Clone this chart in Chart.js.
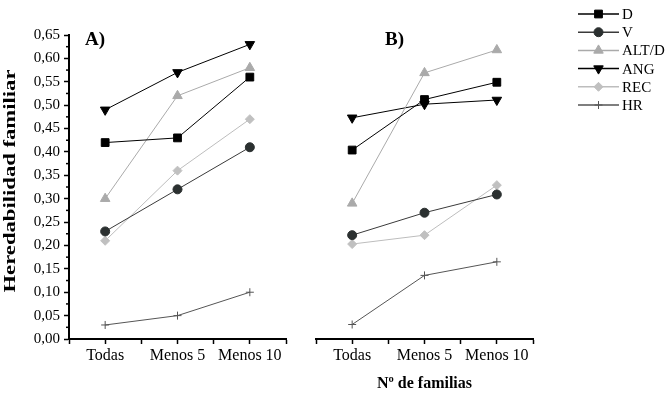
<!DOCTYPE html>
<html>
<head>
<meta charset="utf-8">
<script src="https://cdn.jsdelivr.net/npm/chart.js@4"></script>
<style>
  body { margin: 0; background: #fff; }
  #wrap { position: relative; width: 668px; height: 393px; }
  canvas { position: absolute; top: 0; }
</style>
</head>
<body>
<div id="wrap">
  <canvas id="panelA" width="300" height="393" style="left:0"></canvas>
  <canvas id="panelB" width="368" height="393" style="left:300px"></canvas>
</div>
<script>
// categories sit on every other slot of the x axis, the empty slots only carry ticks
let categories = ['Todas', 'Menos 5', 'Menos 10'];
let xLabels = ['', 'Todas', ' ', 'Menos 5', '  ', 'Menos 10', '   '];
let yTicks = [0, 0.05, 0.10, 0.15, 0.20, 0.25, 0.30, 0.35, 0.40, 0.45, 0.50, 0.55, 0.60, 0.65];
let seriesNames = ['D', 'V', 'ALT/D', 'ANG', 'REC', 'HR'];

// panel A
let dA = [0.42, 0.43, 0.56];
let vA = [0.23, 0.32, 0.41];
let altA = [0.30, 0.52, 0.58];
let angA = [0.49, 0.57, 0.63];
let recA = [0.21, 0.36, 0.47];
let hrA = [0.03, 0.05, 0.10];

// panel B
let dB = [0.404, 0.512, 0.549];
let vB = [0.222, 0.270, 0.309];
let altB = [0.290, 0.569, 0.618];
let angB = [0.473, 0.502, 0.511];
let recB = [0.203, 0.222, 0.329];
let hrB = [0.031, 0.136, 0.165];

const serif = "'Liberation Serif', 'Times New Roman', serif";

const styles = [
    { line: '#000000', fill: '#000000', pointStyle: 'rect', radius: 5.5, rotation: 0 },
    { line: '#3a3a3a', fill: '#2b3030', pointStyle: 'circle', radius: 4.5, rotation: 0 },
    { line: '#aaaaaa', fill: '#aaaaaa', pointStyle: 'triangle', radius: 5.5, rotation: 0 },
    { line: '#000000', fill: '#000000', pointStyle: 'triangle', radius: 5.5, rotation: 180 },
    { line: '#bdbdbd', fill: '#c0c0c0', pointStyle: 'rectRot', radius: 4.5, rotation: 0 },
    { line: '#555555', fill: '#555555', pointStyle: 'cross', radius: 4, rotation: 0 },
];

function makeDatasets(seriesValues) {
    return seriesValues.map((vals, i) => ({
        label: seriesNames[i],
        data: categories.map((c, j) => ({ x: c, y: vals[j] })),
        borderColor: styles[i].line,
        borderWidth: 1,
        backgroundColor: styles[i].fill,
        pointBackgroundColor: styles[i].fill,
        pointBorderColor: styles[i].fill,
        pointBorderWidth: 1,
        pointStyle: styles[i].pointStyle,
        pointRotation: styles[i].rotation,
        pointRadius: styles[i].radius,
        tension: 0,
    }));
}

function xScale(extra) {
    return Object.assign({
        type: 'category',
        labels: xLabels,
        offset: false,
        grid: { display: true, drawOnChartArea: false, drawTicks: true, tickLength: 5, tickColor: '#000', tickWidth: 1.5 },
        border: { display: true, color: '#000', width: 2 },
        ticks: { color: '#000', font: { family: serif, size: 16 }, padding: 2, autoSkip: false, maxRotation: 0 },
        afterFit: s => { s.height = 54; },
    }, extra);
}

// small text + decorations
const panelLabel = {
    id: 'panelLabel',
    afterDraw(chart, args, opts) {
        const ctx = chart.ctx;
        ctx.save();
        ctx.fillStyle = '#000';
        ctx.font = 'bold 19px ' + serif;
        ctx.textBaseline = 'alphabetic';
        ctx.fillText(opts.text, opts.x, opts.y);
        ctx.restore();
    }
};

const minorTicks = {
    id: 'minorTicks',
    afterDraw(chart) {
        const y = chart.scales.y;
        if (!y.options.display) return;
        const ctx = chart.ctx;
        const left = chart.chartArea.left;
        ctx.save();
        ctx.strokeStyle = '#000';
        ctx.lineWidth = 1.5;
        for (let i = 0; i < yTicks.length - 1; i++) {
            const py = y.getPixelForValue((yTicks[i] + yTicks[i + 1]) / 2);
            ctx.beginPath();
            ctx.moveTo(left - 3, py);
            ctx.lineTo(left, py);
            ctx.stroke();
        }
        ctx.restore();
    }
};

const yTitle = {
    id: 'yTitle',
    afterDraw(chart, args, opts) {
        if (!opts.text) return;
        const ctx = chart.ctx;
        const area = chart.chartArea;
        ctx.save();
        ctx.font = 'bold 16px ' + serif;
        ctx.fillStyle = '#000';
        ctx.textAlign = 'center';
        ctx.textBaseline = 'middle';
        const w = ctx.measureText(opts.text).width;
        ctx.translate(opts.x, (area.top + area.bottom) / 2 - 6);
        ctx.rotate(-Math.PI / 2);
        ctx.scale(opts.length / w, 1);
        ctx.fillText(opts.text, 0, 0);
        ctx.restore();
    }
};

const lineLegend = {
    id: 'lineLegend',
    afterDraw(chart, args, opts) {
        if (!opts.show) return;
        const ctx = chart.ctx;
        ctx.save();
        chart.data.datasets.forEach((ds, i) => {
            const cy = opts.y + i * opts.step;
            ctx.strokeStyle = ds.borderColor;
            ctx.lineWidth = 1.5;
            ctx.beginPath();
            ctx.moveTo(opts.x, cy);
            ctx.lineTo(opts.x + opts.len, cy);
            ctx.stroke();
            ctx.fillStyle = ds.pointBackgroundColor;
            ctx.strokeStyle = ds.pointBorderColor;
            ctx.lineWidth = 1;
            Chart.helpers.drawPoint(ctx, {
                pointStyle: ds.pointStyle,
                rotation: ds.pointRotation,
                radius: ds.pointRadius,
                borderWidth: 1,
            }, opts.x + opts.len / 2, cy);
            ctx.fillStyle = '#000';
            ctx.font = '15px ' + serif;
            ctx.textAlign = 'left';
            ctx.textBaseline = 'middle';
            ctx.fillText(ds.label, opts.x + opts.len + 3, cy + 1);
        });
        ctx.restore();
    }
};

new Chart(document.getElementById('panelA'), {
    type: 'line',
    data: { datasets: makeDatasets([dA, vA, altA, angA, recA, hrA]) },
    options: {
        responsive: false,
        animation: false,
        layout: { padding: { top: 35, right: 14, left: 0, bottom: 0 } },
        plugins: {
            legend: { display: false },
            tooltip: { enabled: false },
            panelLabel: { text: 'A)', x: 85, y: 45 },
            yTitle: { text: 'Heredabilidad familiar', x: 11, length: 223 },
            lineLegend: { show: false },
        },
        scales: {
            x: xScale({}),
            y: {
                min: 0,
                max: 0.65,
                grid: { display: true, drawOnChartArea: false, drawTicks: true, tickLength: 5, tickColor: '#000', tickWidth: 1.5 },
                border: { display: true, color: '#000', width: 2 },
                afterBuildTicks: s => { s.ticks = yTicks.map(v => ({ value: v })); },
                ticks: {
                    color: '#000',
                    font: { family: serif, size: 15 },
                    padding: 4,
                    callback: v => v.toFixed(2).replace('.', ','),
                },
                afterFit: s => { s.width = 69; },
            },
        },
    },
    plugins: [panelLabel, minorTicks, yTitle, lineLegend],
});

new Chart(document.getElementById('panelB'), {
    type: 'line',
    data: { datasets: makeDatasets([dB, vB, altB, angB, recB, hrB]) },
    options: {
        responsive: false,
        animation: false,
        layout: { padding: { top: 35, right: 135, left: 16, bottom: 0 } },
        plugins: {
            legend: { display: false },
            tooltip: { enabled: false },
            panelLabel: { text: 'B)', x: 85, y: 45 },
            yTitle: { text: '' },
            lineLegend: { show: true, x: 278, y: 14, step: 18.2, len: 41 },
        },
        scales: {
            x: xScale({
                title: {
                    display: true,
                    text: 'Nº de familias',
                    color: '#000',
                    font: { family: serif, size: 16, weight: 'bold' },
                    padding: { top: 0, bottom: 0 },
                },
            }),
            y: { display: false, min: 0, max: 0.65 },
        },
    },
    plugins: [panelLabel, minorTicks, yTitle, lineLegend],
});
</script>
</body>
</html>
